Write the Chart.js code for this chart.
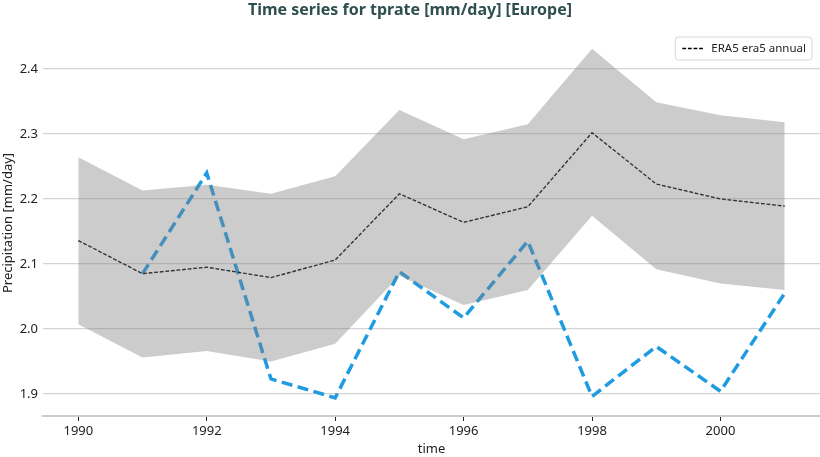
<!DOCTYPE html>
<html>
<head>
<meta charset="utf-8">
<script src="https://cdn.jsdelivr.net/npm/chart.js@4.4.1/dist/chart.umd.min.js"></script>
<style>
  html, body { margin: 0; padding: 0; background: #ffffff; }
  #wrap { width: 820px; height: 457px; position: relative; }
</style>
</head>
<body>
<div id="wrap"><canvas id="chart"></canvas></div>
<script>
const YEARS = [1990, 1991, 1992, 1993, 1994, 1995, 1996, 1997, 1998, 1999, 2000, 2001];
const ERA5_MEAN = [2.136, 2.085, 2.095, 2.079, 2.106, 2.208, 2.164, 2.188, 2.302, 2.223, 2.200, 2.189];
const ERA5_UPPER = [2.264, 2.213, 2.222, 2.208, 2.235, 2.337, 2.292, 2.315, 2.431, 2.349, 2.329, 2.318];
const ERA5_LOWER = [2.007, 1.956, 1.966, 1.950, 1.977, 2.082, 2.037, 2.060, 2.174, 2.092, 2.070, 2.060];
const MODEL_YEARS = [1991, 1992, 1993, 1994, 1995, 1996, 1997, 1998, 1999, 2000, 2001];
const MODEL_VALUES = [2.085, 2.240, 1.923, 1.894, 2.088, 2.017, 2.135, 1.896, 1.973, 1.904, 2.055];
const X_TICKS = [1990, 1992, 1994, 1996, 1998, 2000];
const Y_TICKS = [1.9, 2.0, 2.1, 2.2, 2.3, 2.4];

const FONT = "'Noto Sans', 'Open Sans', sans-serif";
const TEXT_COLOR = "#222222";

function toPoints(xs, ys) {
  return xs.map((x, index) => ({ x, y: ys[index] }));
}

// legend box in the top right corner, drawn from the dataset that has showInLegend
const legendBox = {
  id: "legendBox",
  afterDraw(chart) {
    const dataset = chart.data.datasets.find((item) => item.showInLegend);
    if (!dataset) {
      return;
    }
    const ctx = chart.ctx;
    const area = chart.chartArea;
    const right = area.right - 8;
    const top = area.top + 7;
    const height = 23;

    ctx.save();
    ctx.font = `11.5px ${FONT}`;
    const textWidth = ctx.measureText(dataset.label).width;
    const width = textWidth + 42;
    const left = right - width;

    ctx.beginPath();
    ctx.roundRect(left, top, width, height, 3);
    ctx.fillStyle = "rgba(255, 255, 255, 0.85)";
    ctx.fill();
    ctx.strokeStyle = "#d8d8d8";
    ctx.lineWidth = 1;
    ctx.stroke();

    ctx.beginPath();
    ctx.setLineDash(dataset.borderDash);
    ctx.strokeStyle = dataset.borderColor;
    ctx.lineWidth = dataset.borderWidth;
    ctx.moveTo(left + 7, top + height / 2);
    ctx.lineTo(left + 29, top + height / 2);
    ctx.stroke();

    ctx.setLineDash([]);
    ctx.fillStyle = TEXT_COLOR;
    ctx.textBaseline = "middle";
    ctx.fillText(dataset.label, left + 36, top + height / 2 + 0.5);
    ctx.restore();
  },
};

new Chart(document.getElementById("chart"), {
  type: "line",
  data: {
    datasets: [
      {
        label: "upper",
        data: toPoints(YEARS, ERA5_UPPER),
        borderWidth: 0,
        pointRadius: 0,
        backgroundColor: "rgba(128, 128, 128, 0.4)",
        fill: "+1",
        tension: 0,
      },
      {
        label: "lower",
        data: toPoints(YEARS, ERA5_LOWER),
        borderWidth: 0,
        pointRadius: 0,
        fill: false,
        tension: 0,
      },
      {
        label: "ERA5 era5 annual",
        showInLegend: true,
        data: toPoints(YEARS, ERA5_MEAN),
        borderColor: "#000000",
        borderWidth: 1.4,
        borderDash: [3.8, 1.8],
        pointRadius: 0,
        fill: false,
        tension: 0,
      },
      {
        label: "model",
        data: toPoints(MODEL_YEARS, MODEL_VALUES),
        borderColor: "#1f9be1",
        borderWidth: 3.5,
        borderDash: [11, 5.5],
        pointRadius: 0,
        fill: false,
        tension: 0,
      },
    ],
  },
  options: {
    responsive: true,
    maintainAspectRatio: false,
    animation: false,
    layout: { padding: { top: 0, right: 0, bottom: 0, left: 0 } },
    plugins: {
      legend: { display: false },
      tooltip: { enabled: false },
      title: {
        display: true,
        text: "Time series for tprate [mm/day] [Europe]",
        color: "#2f4f4f",
        font: { family: FONT, size: 16, weight: "bold" },
        padding: { top: 1, bottom: 9.8 },
      },
    },
    scales: {
      x: {
        type: "linear",
        min: 1989.45,
        max: 2001.55,
        afterBuildTicks: (scale) => {
          scale.ticks = X_TICKS.map((value) => ({ value }));
        },
        afterFit: (scale) => {
          scale.height = 41;
        },
        grid: {
          drawOnChartArea: false,
          drawTicks: true,
          tickLength: 5,
          tickColor: "#222222",
        },
        border: { display: true, color: "#cccccc", width: 2 },
        ticks: {
          color: TEXT_COLOR,
          font: { family: FONT, size: 13 },
          padding: 2,
          maxRotation: 0,
          callback: (value) => String(value),
        },
        title: {
          display: true,
          text: "time",
          color: TEXT_COLOR,
          font: { family: FONT, size: 13 },
          padding: { top: 0, bottom: 0 },
        },
      },
      y: {
        min: 1.866,
        max: 2.46,
        afterBuildTicks: (scale) => {
          scale.ticks = Y_TICKS.map((value) => ({ value }));
        },
        afterFit: (scale) => {
          scale.width = 43;
        },
        grid: {
          color: "#d4d4d4",
          lineWidth: 1.3,
          drawTicks: false,
        },
        border: { display: false },
        ticks: {
          color: TEXT_COLOR,
          font: { family: FONT, size: 13 },
          padding: 5,
          callback: (value) => value.toFixed(1),
        },
        title: {
          display: true,
          text: "Precipitation [mm/day]",
          color: TEXT_COLOR,
          font: { family: FONT, size: 13 },
          padding: { top: 0, bottom: 2 },
        },
      },
    },
  },
  plugins: [legendBox],
});
</script>
</body>
</html>
